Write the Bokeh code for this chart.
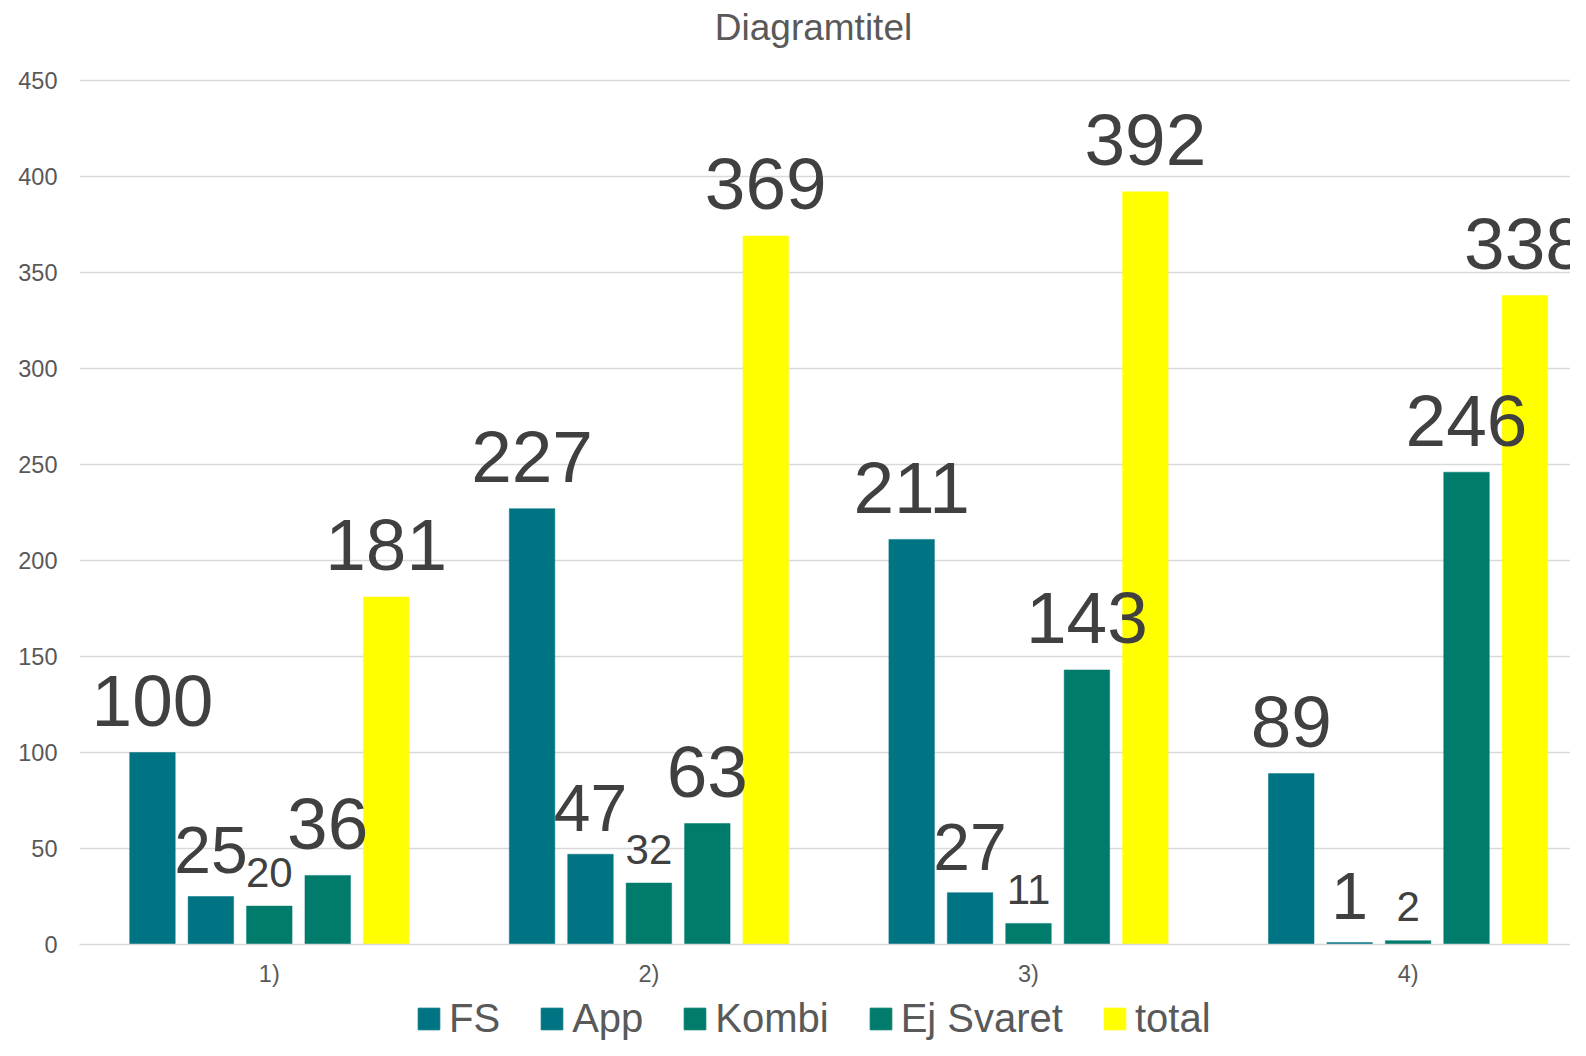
from bokeh.plotting import figure
from bokeh.layouts import column
from bokeh.models import ColumnDataSource, Range1d, FixedTicker, Legend, LegendItem, Label
from bokeh.core.properties import value
from bokeh.embed import file_html
from bokeh.resources import INLINE

# ---- data ----
categories = ["1)", "2)", "3)", "4)"]
series_names = ["FS", "App", "Kombi", "Ej Svaret", "total"]
fs = [100, 227, 211, 89]
app = [25, 47, 27, 1]
kombi = [20, 32, 11, 2]
ej_svaret = [36, 63, 143, 246]
total = [181, 369, 392, 338]
y_ticks = [0, 50, 100, 150, 200, 250, 300, 350, 400, 450]
chart_title = "Diagramtitel"

series_values = [fs, app, kombi, ej_svaret, total]

# ---- styles ----
colors = ["#007482", "#007482", "#007B6C", "#007B6C", "#FFFF00"]
label_font_px = [73, 66, 42, 73, 73]
label_gap_px = [26, 23, 19, 26, 26]
FONT = "Liberation Sans"

W = 1570
frame_left, grid_top, frame_bottom = 79, 80, 944
frame_w = W - frame_left
px_per_unit = (frame_bottom - grid_top) / 450.0
y_end = frame_bottom / px_per_unit
group_px = 379.6
bar_step = 0.1539
bar_w = 0.1199
legend_h = 52

p = figure(frame_width=frame_w, frame_height=frame_bottom,
           output_backend="svg", toolbar_location=None,
           x_range=Range1d(0, frame_w / group_px), y_range=Range1d(0, y_end),
           min_border_left=frame_left, min_border_right=0,
           min_border_top=0, min_border_bottom=0)
p.outline_line_color = None
p.background_fill_color = "white"
p.border_fill_color = "white"

# title (as annotation placed in the top strip of the frame)
p.add_layout(Label(x=813 - frame_left, y=frame_bottom - 27, x_units="screen", y_units="screen",
                   text=chart_title, text_align="center", text_baseline="middle",
                   text_font=FONT, text_font_size="37px", text_color="#595959"))

# axes
p.xaxis.ticker = FixedTicker(ticks=[i + 0.5 for i in range(len(categories))])
p.xaxis.major_label_overrides = {i + 0.5: c for i, c in enumerate(categories)}
p.yaxis.ticker = FixedTicker(ticks=y_ticks)
for ax in (p.xaxis, p.yaxis):
    ax.major_label_text_font = FONT
    ax.major_label_text_font_size = "23.5px"
    ax.major_label_text_color = "#595959"
    ax.major_tick_line_color = None
    ax.minor_tick_line_color = None
    ax.major_tick_out = 0
    ax.major_tick_in = 0
    ax.minor_tick_out = 0
p.yaxis.axis_line_color = None
p.xaxis.axis_line_color = "#D9D9D9"
p.xaxis.axis_line_width = 1.3
p.yaxis.major_label_standoff = 22
p.xaxis.major_label_standoff = 16

p.xgrid.grid_line_color = None
p.ygrid.grid_line_color = "#D9D9D9"
p.ygrid.grid_line_width = 1.3
p.ygrid.ticker = FixedTicker(ticks=y_ticks)

sources = []
for j, (name, vals) in enumerate(zip(series_names, series_values)):
    xs = [i + 0.5 + (j - 2) * bar_step for i in range(len(categories))]
    src = ColumnDataSource(dict(x=xs, top=vals, lab=[str(v) for v in vals]))
    sources.append(src)
    p.vbar(x="x", top="top", width=bar_w, bottom=0, source=src,
           fill_color=colors[j], line_color=colors[j], line_width=0.5)

# labels drawn after all bars so they sit on top
for j, src in enumerate(sources):
    p.text(x="x", y="top", text="lab", source=src, text_align="center",
           text_baseline="alphabetic",
           y_offset=-(label_gap_px[j] + 0.35 * label_font_px[j]),
           text_font=value(FONT), text_font_size=f"{label_font_px[j]}px",
           text_color="#404040")

# ---- legend strip below the chart (same series, hidden proxies) ----
lg = figure(width=W, height=legend_h, output_backend="svg", toolbar_location=None,
            x_range=Range1d(-1001, -1000), y_range=Range1d(-1001, -1000),
            min_border_left=0, min_border_right=0, min_border_top=0, min_border_bottom=0)
lg.axis.visible = False
lg.grid.visible = False
lg.outline_line_color = None
lg.background_fill_color = "white"
lg.border_fill_color = "white"

items = []
for j, name in enumerate(series_names):
    r = lg.vbar(x="x", top="top", width=bar_w, bottom=0, source=sources[j],
                fill_color=colors[j], line_color=colors[j], visible=False)
    items.append(LegendItem(label=name, renderers=[r]))

legend = Legend(items=items, orientation="horizontal", location=(336, 0),
                glyph_width=27, glyph_height=27, label_standoff=7, spacing=38,
                padding=0, margin=0, border_line_alpha=0, background_fill_alpha=0,
                inactive_fill_alpha=0,
                label_text_font=FONT, label_text_font_size="40px",
                label_text_color="#595959")
lg.add_layout(legend, "center")

layout = column(p, lg, spacing=0)
open("out.html", "w").write(file_html(layout, INLINE))
